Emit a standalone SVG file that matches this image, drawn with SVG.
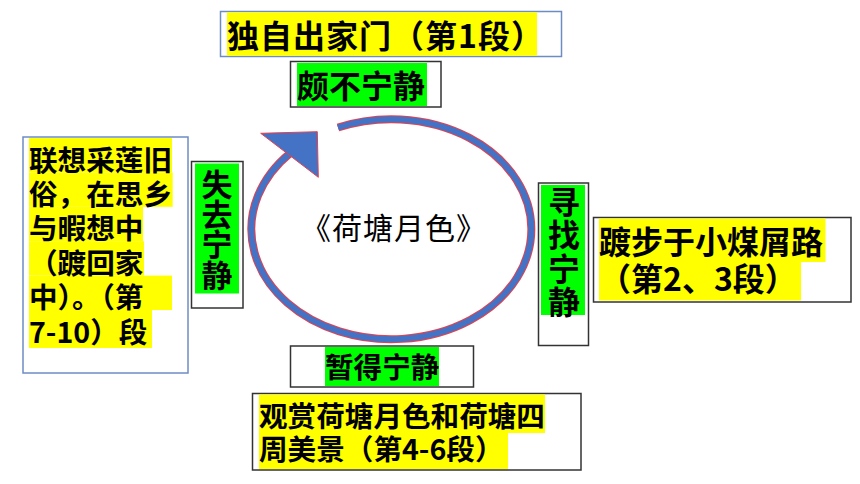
<svg xmlns="http://www.w3.org/2000/svg" width="860" height="484" viewBox="0 0 860 484">
<style>
.t{font-family:"Noto Sans CJK SC","Noto Sans",sans-serif;font-weight:bold;fill:#000}
.v{writing-mode:vertical-rl}
.bb{fill:#fff;stroke:#6d8cc4;stroke-width:1.5}
.gb{fill:#fff;stroke:#333;stroke-width:1.5}
.y{fill:#ffff00}
.g{fill:#00ff00}
</style>
<rect width="860" height="484" fill="#fff"/>
<g id="cycle">
<path d="M338 127.5 A140 110 0 1 1 290.5 152.9" fill="none" stroke="#e8404a" stroke-width="8"/>
<path d="M338 127.5 A140 110 0 1 1 290.5 152.9" fill="none" stroke="#4472c4" stroke-width="6"/>
<polygon points="260.7,133.3 317.3,131.7 318.3,177.3" fill="#4472c4" stroke="#e8404a" stroke-width="1"/>
</g>
<g id="center">
<text x="394" y="238.5" text-anchor="middle" font-family="Noto Sans CJK SC,sans-serif" font-size="30" letter-spacing="1" fill="#000">《荷塘月色》</text>
</g>
<g id="top">
<rect class="bb" x="220.5" y="11.5" width="341" height="45"/>
<rect class="y" x="227" y="12.3" width="310" height="43.5"/>
<text class="t" x="227" y="48" font-size="32" letter-spacing="1">独自出家门（第1段）</text>
</g>
<g id="top-state">
<rect class="gb" x="290.5" y="61.5" width="150.5" height="45.5" stroke="#222"/>
<rect class="g" x="297" y="63" width="130" height="43"/>
<text class="t" x="297" y="98" font-size="32">颇不宁静</text>
</g>
<g id="left">
<rect class="bb" x="23" y="137" width="165" height="236"/>
<rect class="y" x="29" y="138" width="143" height="34.4"/>
<rect class="y" x="29" y="172.4" width="143.7" height="34.4"/>
<rect class="y" x="29" y="206.8" width="114" height="34.4"/>
<rect class="y" x="29" y="241.2" width="115" height="34.4"/>
<rect class="y" x="29" y="275.6" width="143" height="34.4"/>
<rect class="y" x="29" y="310" width="123" height="38"/>
<text class="t" font-size="28.6"><tspan x="29" y="170.5">联想采莲旧</tspan><tspan x="29" dy="34.4">俗，在思乡</tspan><tspan x="29" dy="34.4">与暇想中</tspan><tspan x="29" dy="34.4">（踱回家</tspan><tspan x="29" dy="34.4">中）。（第</tspan><tspan x="29" dy="34.4">7-10）段</tspan></text>
</g>
<g id="left-state">
<rect class="gb" x="191.5" y="161.5" width="51.5" height="146.5" stroke="#444"/>
<rect class="g" x="195" y="163.5" width="44" height="130"/>
<text class="t v" x="217" y="168.5" font-size="31" letter-spacing="-0.7">失去宁静</text>
</g>
<g id="right-state">
<rect class="gb" x="538.5" y="183" width="50" height="162.5"/>
<rect class="g" x="541" y="185" width="44" height="130"/>
<text class="t v" x="564" y="185.5" font-size="32" letter-spacing="1.5">寻找宁静</text>
</g>
<g id="right">
<rect class="gb" x="593.5" y="217.5" width="257.5" height="84.5" stroke="#555"/>
<rect class="y" x="599" y="218.5" width="226.5" height="43.5"/>
<rect class="y" x="599" y="262" width="202" height="38.5"/>
<text class="t" font-size="32"><tspan x="599" y="254">踱步于小煤屑路</tspan><tspan x="599" dy="37">（第2、3段）</tspan></text>
</g>
<g id="bottom-state">
<rect class="gb" x="290.5" y="346" width="183" height="41" stroke="#222"/>
<rect class="g" x="325" y="347" width="114" height="39"/>
<text class="t" x="325" y="378" font-size="28.6">暂得宁静</text>
</g>
<g id="bottom">
<rect class="gb" x="252.5" y="393.5" width="328.5" height="76.5" stroke="#888" stroke-width="2"/>
<rect class="y" x="259" y="394.5" width="286" height="38.5"/>
<rect class="y" x="259" y="433" width="249" height="36"/>
<text class="t" font-size="28.6"><tspan x="259" y="426.5">观赏荷塘月色和荷塘四</tspan><tspan x="259" dy="33.5">周美景（第4-6段）</tspan></text>
</g>
</svg>
